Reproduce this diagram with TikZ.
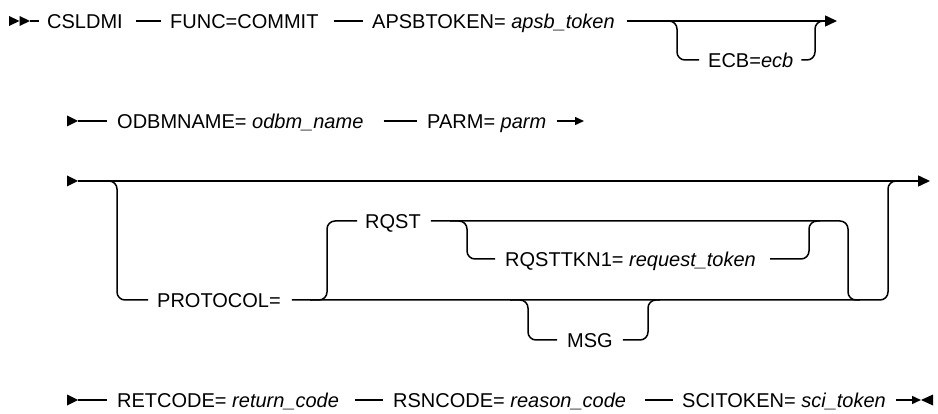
\documentclass[tikz,border=0pt]{standalone}
\usepackage{fontspec}
\setmainfont{Liberation Sans}
\usetikzlibrary{arrows.meta}
\begin{document}
\begin{tikzpicture}[x=1pt,y=-1pt,
  lbl/.style={anchor=west,inner sep=0pt,text height=14.3pt,text depth=0pt,font=\fontsize{20}{24}\selectfont},
  rail/.style={line width=1.5pt},
  rr/.style={rail,rounded corners=8pt},
  bigtip/.style={rail,-{Triangle[length=12pt,width=11pt]}},
  smalltip/.style={rail,-{Triangle[length=9pt,width=8pt]}},
]
\useasboundingbox (0,0) rectangle (938,414);

% ---------- Row 1 ----------
\node[lbl] (csl) at (47,21) {CSLDMI};
\node[lbl] (func) at (170,21) {FUNC=COMMIT};
\node[lbl] (apsb) at (372,21) {APSBTOKEN= \textit{apsb\_token}};
\node[lbl] (ecb) at (708,60) {ECB=\textit{ecb}};
\coordinate (s1) at (30,21);
\fill (9,16) -- (19.5,21) -- (9,26) -- cycle;
\fill (19.5,16) -- (30,21) -- (19.5,26) -- cycle;
\draw[rail] (s1) -- ([xshift=-8pt]csl.west);
\draw[rail] ([xshift=13pt]csl.east) -- ([xshift=-9pt]func.west);
\draw[rail] ([xshift=15pt]func.east) -- ([xshift=-9pt]apsb.west);
\coordinate (e1) at (837,21);
\draw[bigtip] ([xshift=12pt]apsb.east) -- (e1);
\coordinate (ecbA) at (660,21);
\coordinate (ecbB) at (824,21);
\draw[rr] (ecbA) -| (677,60) -- ([xshift=-9pt]ecb.west);
\draw[rr] ([xshift=8pt]ecb.east) -| (815,21) -- (ecbB);

% ---------- Row 2 ----------
\node[lbl] (odbm) at (117,121) {ODBMNAME= \textit{odbm\_name}};
\node[lbl] (parm) at (427,121) {PARM= \textit{parm}};
\coordinate (s2) at (78,121);
\fill (67,115.5) -- (s2) -- (67,126.5) -- cycle;
\draw[rail] (s2) -- ([xshift=-10pt]odbm.west);
\draw[rail] ([xshift=20pt]odbm.east) -- ([xshift=-10pt]parm.west);
\coordinate (e2) at (584,121);
\draw[smalltip] ([xshift=10pt]parm.east) -- (e2);

% ---------- Row 3 ----------
\coordinate (s3) at (78,181);
\coordinate (e3) at (930,181);
\fill (67,175.5) -- (s3) -- (67,186.5) -- cycle;
\draw[bigtip] (s3) -- (e3);
\node[lbl] (proto) at (157,300) {PROTOCOL=};
\node[lbl] (rqst) at (365,221) {RQST};
\node[lbl] (tkn) at (505,259) {RQSTTKN1= \textit{request\_token}};
\node[lbl] (msg) at (567,340) {MSG};
\coordinate (pA) at (100,181);
\coordinate (pB) at (900,181);
\draw[rr] (pA) -| (117,300) -- ([xshift=-9pt]proto.west);
\draw[rr] ([xshift=11pt]proto.east) -| (888,181) -- (pB);
\coordinate (qA) at (310,300);
\coordinate (qB) at (860,300);
\draw[rr] (qA) -| (327,221) -- ([xshift=-8pt]rqst.west);
\draw[rr] ([xshift=10pt]rqst.east) -| (848,300) -- (qB);
\coordinate (tA) at (450,221);
\coordinate (tB) at (820,221);
\draw[rr] (tA) -| (467,259) -- ([xshift=-10pt]tkn.west);
\draw[rr] ([xshift=14pt]tkn.east) -| (809,221) -- (tB);
\coordinate (mA) at (510,300);
\coordinate (mB) at (660,300);
\draw[rr] (mA) -| (528,340) -- ([xshift=-10pt]msg.west);
\draw[rr] ([xshift=10pt]msg.east) -| (648,300) -- (mB);

% ---------- Row 4 ----------
\node[lbl] (ret) at (117,400) {RETCODE= \textit{return\_code}};
\node[lbl] (rsn) at (393,400) {RSNCODE= \textit{reason\_code}};
\node[lbl] (sci) at (682,400) {SCITOKEN= \textit{sci\_token}};
\coordinate (s4) at (78,400);
\fill (67,394.5) -- (s4) -- (67,405.5) -- cycle;
\draw[rail] (s4) -- ([xshift=-10pt]ret.west);
\draw[rail] ([xshift=16pt]ret.east) -- ([xshift=-10pt]rsn.west);
\draw[rail] ([xshift=19pt]rsn.east) -- ([xshift=-9pt]sci.west);
\coordinate (e4) at (921,400);
\draw[smalltip] ([xshift=10pt]sci.east) -- (e4);
\fill (933,394.5) -- (e4) -- (933,405.5) -- cycle;
\end{tikzpicture}
\end{document}
